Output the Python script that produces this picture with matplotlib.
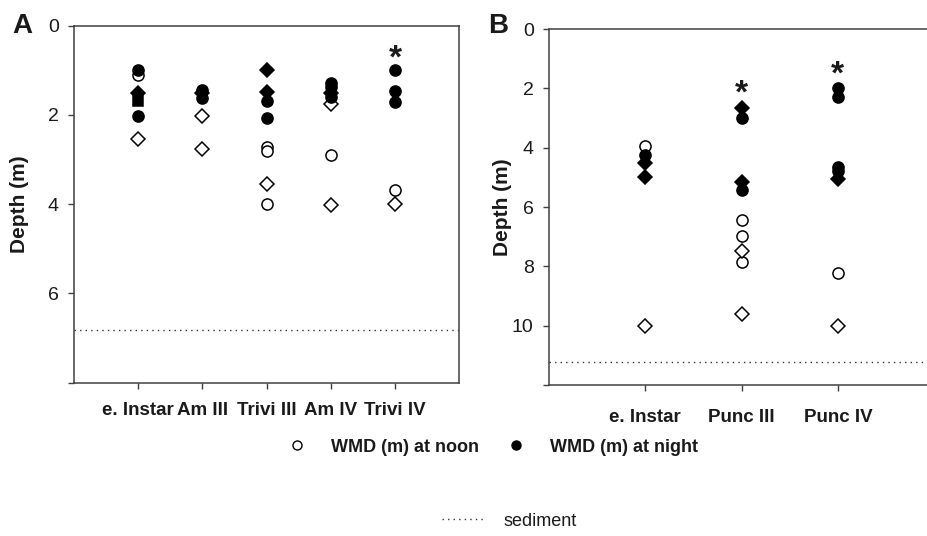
import matplotlib.pyplot as plt
from matplotlib.lines import Line2D
import numpy as np

plt.rcParams['font.family'] = ['Liberation Sans', 'DejaVu Sans']

# panel A data (depth in m)
cats_a = ['e. Instar', 'Am III', 'Trivi III', 'Am IV', 'Trivi IV']
noon_circ_a = [[1.1], [], [2.72, 2.82, 3.99], [2.91], [3.69]]
noon_diam_a = [[2.53], [2.02, 2.76], [3.56], [1.75, 4.01], [4.0]]
night_circ_a = [[1.0, 2.03], [1.45, 1.63], [1.69, 2.08], [1.29, 1.38, 1.6], [1.0, 1.46, 1.72]]
night_diam_a = [[1.5], [1.5], [1.0, 1.48], [1.5], []]
night_sq_a = [[1.68], [], [], [], []]
star_a = [None, None, None, None, 0.53]
sediment_a = 6.82

# panel B data
cats_b = ['e. Instar', 'Punc III', 'Punc IV']
noon_circ_b = [[3.95], [6.43, 6.97, 7.86], [8.23]]
noon_diam_b = [[10.0], [7.5, 9.61], [10.0]]
night_circ_b = [[4.25], [3.01, 5.42], [2.0, 2.3, 4.64, 4.8]]
night_diam_b = [[4.52, 5.0], [2.67, 5.17], [5.07]]
night_sq_b = [[], [], []]
star_b = [None, 1.87, 1.22]
sediment_b = 11.22

W, H = 927, 536
fig = plt.figure(figsize=(W / 100, H / 100), dpi=100)

spine_c = '#404040'
txt_c = '#1a1a1a'


def draw_panel(ax, cats, nc, nd, fc, fd, fs, stars, sed, ymax, yticks, lpad):
    for i in range(len(cats)):
        x = i + 1
        # open markers first, filled ones on top
        ax.plot([x] * len(nc[i]), nc[i], 'o', ms=8, mfc='white', mec='black', mew=1.1, ls='none')
        ax.plot([x] * len(nd[i]), nd[i], 'D', ms=7, mfc='white', mec='black', mew=1.1, ls='none')
        ax.plot([x] * len(fc[i]), fc[i], 'o', ms=8, mfc='black', mec='black', mew=1.1, ls='none')
        ax.plot([x] * len(fd[i]), fd[i], 'D', ms=7.5, mfc='black', mec='black', mew=1.1, ls='none')
        ax.plot([x] * len(fs[i]), fs[i], 's', ms=7.5, mfc='black', mec='black', mew=1.1, ls='none')
        if stars[i] is not None:
            ax.annotate('*', xy=(x, stars[i]), xytext=(0, -13), textcoords='offset points',
                        ha='center', va='baseline', fontsize=24, fontweight='bold', color=txt_c)
    ax.axhline(sed, color='#333333', lw=1, ls=(0, (1, 3)))
    ax.set_xlim(0, len(cats) + 1)
    ax.set_ylim(ymax, 0)
    ax.set_xticks(range(1, len(cats) + 1))
    ax.set_xticklabels(cats, fontsize=13.5, fontweight='bold', color=txt_c)
    ax.set_yticks(yticks)
    ax.set_yticklabels([str(t) for t in yticks[:-1]] + [''], fontsize=14, color=txt_c)
    ax.tick_params(axis='x', direction='out', length=4.5, width=1, color=spine_c, pad=lpad)
    ax.tick_params(axis='y', direction='out', length=4.5, width=1, color=spine_c, pad=6.5)
    for s in ax.spines.values():
        s.set_color(spine_c)
        s.set_linewidth(1.1)
    ax.set_ylabel('Depth (m)', fontsize=15, fontweight='bold', color=txt_c)


ax_a = fig.add_axes([74 / W, 1 - 382.5 / H, 385.3 / W, 356.8 / H])
draw_panel(ax_a, cats_a, noon_circ_a, noon_diam_a, night_circ_a, night_diam_a, night_sq_a,
           star_a, sediment_a, 8, [0, 2, 4, 6, 8], 9.5)
ax_a.yaxis.set_label_coords(-0.118, 0.5)

ax_b = fig.add_axes([549 / W, 1 - 385 / H, 385.2 / W, 356 / H])
draw_panel(ax_b, cats_b, noon_circ_b, noon_diam_b, night_circ_b, night_diam_b, night_sq_b,
           star_b, sediment_b, 12, [0, 2, 4, 6, 8, 10, 12], 13)
ax_b.yaxis.set_label_coords(-0.096, 0.5)

fig.text(12 / W, 1 - 33 / H, 'A', fontsize=20, fontweight='bold', va='baseline', color=txt_c)
fig.text(488 / W, 1 - 33 / H, 'B', fontsize=20, fontweight='bold', va='baseline', color=txt_c)

h_noon = Line2D([], [], marker='o', ls='none', ms=6.5, mfc='white', mec='black', mew=1)
h_night = Line2D([], [], marker='o', ls='none', ms=6.5, mfc='black', mec='black', mew=1)
fig.legend([h_noon, h_night], ['WMD (m) at noon', 'WMD (m) at night'], loc='center',
           bbox_to_anchor=(493 / W, 1 - 447 / H), ncol=2, frameon=False,
           prop={'size': 13, 'weight': 'bold'}, handlelength=1, handletextpad=1.4,
           columnspacing=1.5, labelcolor=txt_c)

h_sed = Line2D([], [], color='#333333', lw=1, ls=(0, (1, 3)))
fig.legend([h_sed], ['sediment'], loc='center', bbox_to_anchor=(509 / W, 1 - 521 / H),
           frameon=False, fontsize=13, handlelength=2.4, handletextpad=1.0, labelcolor=txt_c)

fig.savefig('out.png', dpi=100)
